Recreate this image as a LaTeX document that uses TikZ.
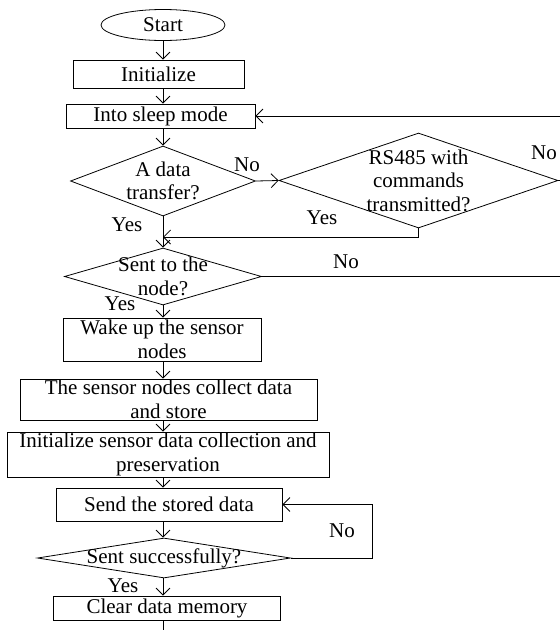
\documentclass[tikz,border=0pt]{standalone}
\usepackage{fontspec}
\setmainfont{Liberation Serif}
\usetikzlibrary{positioning, arrows.meta, shapes.geometric, calc}

\begin{document}
\begin{tikzpicture}[
        x=1pt, y=1pt,
        font=\fontsize{21}{23.5}\selectfont,
        line width=0.8pt,
        terminal/.style={ellipse, draw=black, inner sep=0pt},
        process/.style={rectangle, draw=black, inner sep=0pt, align=center},
        decision/.style={diamond, draw=black, inner sep=0pt},
        txt/.style={align=center, inner sep=0pt},
        tag/.style={inner sep=0pt},
        arrow/.style={-{Straight Barb[length=7pt, width=14pt]}, draw=black},
        link/.style={draw=black}
        ]

        \useasboundingbox (0,0) rectangle (560,-630);

        % Start and set-up
        \node[terminal, minimum width=124pt, minimum height=31pt] (start) at (163,-25) {Start};
        \node[process, minimum width=171pt, minimum height=28pt] (init) at (158.5,-74) {Initialize};
        \node[process, minimum width=189pt, minimum height=24pt] (sleep) at (160.5,-116) {Into sleep mode};

        % Decisions
        \node[decision, minimum width=185pt, minimum height=70pt] (qdata) at (163,-181) {};
        \node[txt] at (qdata) {A data\\transfer?};
        \node[decision, minimum width=279pt, minimum height=95pt] (qrs) at (418.5,-180.5) {};
        \node[txt] at (qrs) {RS485 with\\commands\\transmitted?};
        \node[decision, minimum width=197pt, minimum height=57pt] (qnode) at (163,-276.5) {};
        \node[txt] at (qnode) {Sent to the\\node?};

        % Sensor nodes
        \node[process, minimum width=198pt, minimum height=43pt] (wake) at (162,-339.5) {Wake up the sensor\\nodes};
        \node[process, minimum width=297pt, minimum height=41pt] (collect) at (168.5,-399.5) {The sensor nodes collect data\\and store};
        \node[process, minimum width=322pt, minimum height=45pt] (keep) at (168,-454.5) {Initialize sensor data collection and\\preservation};
        \node[process, minimum width=226pt, minimum height=33pt] (send) at (169,-504.5) {Send the stored data};
        \node[decision, minimum width=253pt, minimum height=40pt] (qsent) at (164,-558) {};
        \node[txt] at (qsent) {Sent successfully?};
        \node[process, minimum width=227pt, minimum height=24pt] (clear) at (167,-608) {Clear data memory};

        % Yes / No labels
        \node[tag] (no1) at (247,-165) {No};
        \node[tag] (yes1) at (127,-225) {Yes};
        \node[tag] (no2) at (544,-153) {No};
        \node[tag] (yes2) at (322,-218) {Yes};
        \node[tag] (no3) at (346,-262) {No};
        \node[tag] (yes3) at (120,-304) {Yes};
        \node[tag] (no4) at (342,-531) {No};
        \node[tag] (yes4) at (123,-586) {Yes};

        % Free ends
        \coordinate (backin) at (560,-116);
        \coordinate (rsedge) at (560,-180.5);
        \coordinate (nodeout) at (560,-276.5);
        \coordinate (rsjoin) at (163,-237);
        \coordinate (retry) at (372.5,-558);
        \coordinate (tail) at (163,-630);

        % Main line
        \foreach \a/\b in {start/init, init/sleep, sleep/qdata, qdata/qnode, qnode/wake,
                           wake/collect, collect/keep, keep/send, send/qsent, qsent/clear} {
            \draw[arrow] (\a.south -| start) -- (\b.north -| start);
        }
        \draw[link] (clear.south -| start) -- (tail);

        % Branches
        \draw[arrow] (qdata.east) -- (qrs.west);
        \draw[arrow] (qrs.south) -- (qrs.south |- rsjoin) -- (rsjoin);
        \draw[link] (qrs.east) -- (rsedge);
        \draw[arrow] (backin) -- (sleep.east);
        \draw[link] (qnode.east) -- (nodeout);
        \draw[arrow] (qsent.east) -- (retry) |- (send.east);

\end{tikzpicture}
\end{document}
